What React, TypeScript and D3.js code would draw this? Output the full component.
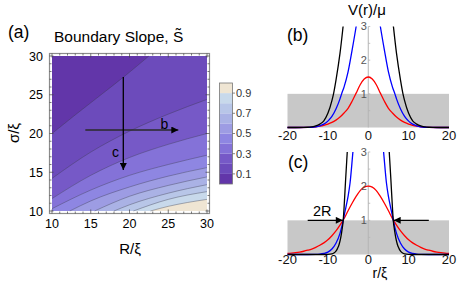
import React, { useRef, useEffect } from "react";
import * as d3 from "d3";

type Pt = [number, number];

const WIDTH = 474;
const HEIGHT = 284;
const FONT = "'Liberation Sans', Arial, Helvetica, sans-serif";

// -----------------------------
// Panel (a): boundary slope contour map
// -----------------------------
const axisTicksA = [10, 15, 20, 25, 30];
const slopeLevels = [0.1, 0.2, 0.3, 0.4, 0.5, 0.6, 0.7, 0.8, 0.9];
const bandColors = [
    "#6236a9", "#6c4bbb", "#7659c7", "#8472d8", "#8e86e2",
    "#9d9ce3", "#aab2e5", "#b8c6e8", "#c8d9eb", "#efe5d3"
];
const colorbarTicks = [0.1, 0.3, 0.5, 0.7, 0.9];

// contour lines [R/xi, sigma/xi], one per slope level
const contour01: Pt[] = [[10, 20.0], [13, 22.4], [16.2, 24.9], [19.5, 27.5], [22.5, 30]];
const contour02: Pt[] = [[10, 14.2], [15, 17.6], [20, 20.3], [25, 22.5], [30, 24.4]];
const contour03: Pt[] = [[10, 11.6], [15, 14.6], [20, 16.9], [25, 18.6], [30, 20.0]];
const contour04: Pt[] = [[10, 10.3], [15, 12.7], [20, 14.6], [25, 16.0], [30, 17.2]];
const contour05: Pt[] = [[12.3, 10], [15, 11.3], [20, 13.1], [25, 14.5], [30, 15.6]];
const contour06: Pt[] = [[15.5, 10], [20, 11.9], [25, 13.3], [30, 14.4]];
const contour07: Pt[] = [[18, 10], [20, 10.8], [25, 12.3], [30, 13.4]];
const contour08: Pt[] = [[20.5, 10], [25, 11.5], [30, 12.5]];
const contour09: Pt[] = [[22.7, 10], [25, 10.6], [30, 11.5]];
const contourLines = [contour01, contour02, contour03, contour04, contour05, contour06, contour07, contour08, contour09];

// cuts through parameter space
const cutB: Pt[] = [[14.3, 20.45], [26.3, 20.45]];
const cutC: Pt[] = [[19.2, 27.3], [19.2, 15.3]];

// -----------------------------
// Panels (b), (c): V(r)/mu profiles, r >= 0 half (symmetric)
// -----------------------------
const rTicks = [-20, -10, 0, 10, 20];
const vTicks = [1, 2, 3];

const redB: Pt[] = [[0, 1.5], [1, 1.44], [2, 1.27], [3, 1.02], [4, 0.78], [5, 0.57], [6, 0.43], [7, 0.31], [8, 0.22], [9, 0.15], [10, 0.1], [11, 0.065], [12, 0.04], [13, 0.022], [14, 0.01], [15, 0.004], [17, 0], [20, 0]];
const blueB: Pt[] = [[0, 4.6], [1, 4.4], [2, 3.8], [3, 3.0], [4, 2.3], [5, 1.65], [6, 1.2], [6.6, 1.0], [7, 0.85], [8, 0.55], [9, 0.33], [10, 0.19], [11, 0.1], [12, 0.05], [13, 0.022], [14, 0.008], [15, 0.003], [17, 0], [20, 0]];
const blackB: Pt[] = [[0, 12], [2, 9.5], [4, 6], [5, 4.3], [6, 3.25], [7, 2.2], [8, 1.4], [8.6, 1.0], [9, 0.8], [10, 0.42], [11, 0.2], [12, 0.1], [13, 0.045], [14, 0.02], [15, 0.008], [16, 0.003], [18, 0], [20, 0]];

const redC: Pt[] = [[0, 2.0], [1, 1.97], [2, 1.87], [3, 1.7], [4, 1.5], [5, 1.28], [6, 1.05], [7, 0.86], [8, 0.69], [9, 0.55], [10, 0.43], [11, 0.34], [12, 0.27], [13, 0.21], [14, 0.16], [15, 0.125], [16, 0.095], [17, 0.072], [18, 0.055], [19, 0.042], [20, 0.032]];
const blueC: Pt[] = [[0, 7], [2, 5.2], [3, 4.0], [3.8, 3.0], [4.5, 2.1], [5, 1.7], [5.5, 1.4], [6, 1.12], [6.2, 1.0], [7, 0.62], [8, 0.33], [9, 0.16], [10, 0.07], [11, 0.03], [12, 0.01], [13, 0.003], [15, 0], [20, 0]];
const blackC: Pt[] = [[0, 30], [3, 12], [4, 6.5], [4.5, 4.6], [5, 3.4], [5.2, 3.0], [5.6, 2.2], [6, 1.35], [6.2, 1.0], [6.5, 0.72], [6.8, 0.5], [7.2, 0.3], [7.6, 0.18], [8, 0.1], [8.5, 0.045], [9, 0.018], [10, 0.003], [11, 0], [20, 0]];

const arrowLeftC: Pt[] = [[-15, 1], [-6.3, 1]];
const arrowRightC: Pt[] = [[15, 1], [6.3, 1]];

const mirror = (half: Pt[]): Pt[] => [
    ...half.slice(1).reverse().map(([r, v]) => [-r, v] as Pt),
    ...half
];

const App: React.FC = () => {
    const svgRef = useRef<SVGSVGElement | null>(null);

    useEffect(() => {
        if (!svgRef.current) return;
        const svg = d3.select(svgRef.current);
        svg.selectAll("*").remove();

        const defs = svg.append("defs");
        defs.append("marker")
            .attr("id", "head")
            .attr("viewBox", "0 0 10 10")
            .attr("refX", 10)
            .attr("refY", 5)
            .attr("markerWidth", 8)
            .attr("markerHeight", 7)
            .attr("markerUnits", "userSpaceOnUse")
            .attr("orient", "auto")
            .append("path")
            .attr("d", "M0,0L10,5L0,10Z")
            .attr("fill", "#000");

        // -----------------------------
        // Panel (a)
        // -----------------------------
        const xA = d3.scaleLinear().domain([10, 30]).range([52, 207]);
        const yA = d3.scaleLinear().domain([10, 30]).range([211, 56]);
        const gA = svg.append("g");

        gA.append("rect")
            .attr("x", xA(10)).attr("y", yA(30))
            .attr("width", xA(30) - xA(10)).attr("height", yA(10) - yA(30))
            .attr("fill", bandColors[9]);

        const contourLine = d3.line<Pt>()
            .x(d => xA(d[0]))
            .y(d => yA(d[1]))
            .curve(d3.curveMonotoneX);

        for (let k = slopeLevels.length - 1; k >= 0; k--) {
            const pts = contourLines[k];
            const first = pts[0];
            const last = pts[pts.length - 1];
            const corners: Pt[] = [];
            if (last[0] >= 30 && last[1] < 30) corners.push([30, 30]);
            corners.push([10, 30]);
            if (first[1] <= 10 && first[0] > 10) corners.push([10, 10]);
            const d = contourLine(pts) + corners.map(c => `L${xA(c[0])},${yA(c[1])}`).join("") + "Z";
            gA.append("path").attr("d", d).attr("fill", bandColors[k]);
        }

        gA.selectAll("path.contour")
            .data(contourLines)
            .enter()
            .append("path")
            .attr("class", "contour")
            .attr("d", d => contourLine(d))
            .attr("fill", "none")
            .attr("stroke", "#3a3a4a")
            .attr("stroke-opacity", 0.55)
            .attr("stroke-width", 0.7);

        // frame with inward ticks
        const fx0 = xA(10) - 2.5, fx1 = xA(30) + 2.5;
        const fy0 = yA(30) - 2.5, fy1 = yA(10) + 2.5;
        gA.append("rect")
            .attr("x", fx0).attr("y", fy0)
            .attr("width", fx1 - fx0).attr("height", fy1 - fy0)
            .attr("fill", "none")
            .attr("stroke", "#8c8c8c")
            .attr("stroke-width", 1.2);
        d3.range(10, 30.01, 1).forEach(v => {
            const len = v % 5 === 0 ? 4 : 2;
            const tick = (x1: number, y1: number, x2: number, y2: number) =>
                gA.append("line").attr("x1", x1).attr("y1", y1).attr("x2", x2).attr("y2", y2)
                    .attr("stroke", "#444").attr("stroke-width", 0.7);
            tick(xA(v), fy1, xA(v), fy1 - len);
            tick(xA(v), fy0, xA(v), fy0 + len);
            tick(fx0, yA(v), fx0 + len, yA(v));
            tick(fx1, yA(v), fx1 - len, yA(v));
        });

        gA.selectAll("text.xt")
            .data(axisTicksA)
            .enter()
            .append("text")
            .attr("x", d => xA(d))
            .attr("y", 228)
            .attr("text-anchor", "middle")
            .attr("font-size", 12.5)
            .attr("font-family", FONT)
            .text(d => d);

        gA.selectAll("text.yt")
            .data(axisTicksA)
            .enter()
            .append("text")
            .attr("x", 43)
            .attr("y", d => yA(d))
            .attr("dy", "0.36em")
            .attr("text-anchor", "end")
            .attr("font-size", 12.5)
            .attr("font-family", FONT)
            .text(d => d);

        const cutLine = d3.line<Pt>().x(d => xA(d[0])).y(d => yA(d[1]));
        gA.append("path").attr("d", cutLine(cutB)).attr("stroke", "#2a2a2a").attr("stroke-width", 1.3)
            .attr("fill", "none").attr("marker-end", "url(#head)");
        gA.append("path").attr("d", cutLine(cutC)).attr("stroke", "#000").attr("stroke-width", 1.3)
            .attr("fill", "none").attr("marker-end", "url(#head)");
        gA.append("text").attr("x", xA(24.5)).attr("y", yA(20.6)).attr("text-anchor", "middle")
            .attr("font-size", 14).attr("font-family", FONT).text("b");
        gA.append("text").attr("x", xA(18.2)).attr("y", yA(17.0)).attr("text-anchor", "middle")
            .attr("font-size", 14).attr("font-family", FONT).text("c");

        svg.append("text").attr("x", 8).attr("y", 38).attr("font-size", 17.5).attr("font-family", FONT).text("(a)");
        svg.append("text").attr("x", 54).attr("y", 42).attr("font-size", 15.5).attr("font-family", FONT)
            .text("Boundary Slope, S\u0303");
        svg.append("text").attr("x", 130).attr("y", 254).attr("text-anchor", "middle")
            .attr("font-size", 15).attr("font-family", FONT).text("R/\u03be");
        svg.append("text").attr("transform", "translate(19,133) rotate(-90)").attr("text-anchor", "middle")
            .attr("font-size", 15).attr("font-family", FONT).text("\u03c3/\u03be");

        // colorbar
        const yCB = d3.scaleLinear().domain([0, 1]).range([184, 83]);
        const cb = svg.append("g");
        cb.selectAll("rect.band")
            .data(bandColors)
            .enter()
            .append("rect")
            .attr("x", 219.5)
            .attr("y", (_, i) => yCB((i + 1) / 10))
            .attr("width", 13)
            .attr("height", (_, i) => yCB(i / 10) - yCB((i + 1) / 10))
            .attr("fill", d => d);
        cb.append("rect").attr("x", 219.5).attr("y", yCB(1)).attr("width", 13).attr("height", yCB(0) - yCB(1))
            .attr("fill", "none").attr("stroke", "#777").attr("stroke-width", 0.8);
        colorbarTicks.forEach(t => {
            cb.append("line").attr("x1", 232.5).attr("x2", 235).attr("y1", yCB(t)).attr("y2", yCB(t))
                .attr("stroke", "#555").attr("stroke-width", 0.7);
            cb.append("text").attr("x", 236).attr("y", yCB(t)).attr("dy", "0.36em")
                .attr("font-size", 11).attr("font-family", FONT).attr("fill", "#333").text(t.toFixed(1));
        });

        // -----------------------------
        // Panels (b) and (c)
        // -----------------------------
        const xP = d3.scaleLinear().domain([-20, 20]).range([287.5, 449]);

        const drawProfile = (
            id: string,
            yP: d3.ScaleLinear<number, number>,
            curves: { data: Pt[]; color: string }[],
            tickBaseline: number
        ) => {
            const g = svg.append("g");
            g.append("rect")
                .attr("x", xP(-20)).attr("y", yP(1))
                .attr("width", xP(20) - xP(-20)).attr("height", yP(0) - yP(1))
                .attr("fill", "#c8c8c8");
            g.append("line")
                .attr("x1", xP(0)).attr("x2", xP(0)).attr("y1", yP(0)).attr("y2", yP(3))
                .attr("stroke", "#b4b4b4").attr("stroke-width", 1);
            d3.range(0.5, 3.01, 0.5).forEach(v => {
                g.append("line").attr("x1", xP(0)).attr("x2", xP(0) + 2).attr("y1", yP(v)).attr("y2", yP(v))
                    .attr("stroke", "#b4b4b4").attr("stroke-width", 0.8);
            });

            defs.append("clipPath").attr("id", id)
                .append("rect")
                .attr("x", xP(-20) - 1).attr("y", yP(3))
                .attr("width", xP(20) - xP(-20) + 2).attr("height", yP(0) - yP(3) + 2);

            const profileLine = d3.line<Pt>()
                .x(d => xP(d[0]))
                .y(d => yP(d[1]))
                .curve(d3.curveMonotoneX);

            g.append("g").attr("clip-path", `url(#${id})`)
                .selectAll("path")
                .data(curves)
                .enter()
                .append("path")
                .attr("d", d => profileLine(mirror(d.data)))
                .attr("fill", "none")
                .attr("stroke", d => d.color)
                .attr("stroke-width", 1.3);

            g.selectAll("text.vt")
                .data(vTicks)
                .enter()
                .append("text")
                .attr("x", xP(0) - 1.5)
                .attr("y", d => yP(d))
                .attr("dy", "0.36em")
                .attr("text-anchor", "end")
                .attr("font-size", 11)
                .attr("font-family", FONT)
                .attr("fill", "#555")
                .text(d => d);

            g.selectAll("text.rt")
                .data(rTicks)
                .enter()
                .append("text")
                .attr("x", d => xP(d))
                .attr("y", tickBaseline)
                .attr("text-anchor", "middle")
                .attr("font-size", 13)
                .attr("font-family", FONT)
                .attr("fill", "#111")
                .text(d => d);
            return g;
        };

        const yB = d3.scaleLinear().domain([0, 3]).range([127.5, 26.5]);
        drawProfile("clipB", yB, [
            { data: redB, color: "#ff0000" },
            { data: blueB, color: "#0000ff" },
            { data: blackB, color: "#000000" }
        ], 140);
        svg.append("text").attr("x", 287).attr("y", 41).attr("font-size", 17.5).attr("font-family", FONT).text("(b)");
        svg.append("text").attr("x", 367).attr("y", 15).attr("text-anchor", "middle")
            .attr("font-size", 15).attr("font-family", FONT).text("V(r)/\u03bc");

        const yC = d3.scaleLinear().domain([0, 3]).range([254.5, 152]);
        const gC = drawProfile("clipC", yC, [
            { data: redC, color: "#ff0000" },
            { data: blueC, color: "#0000ff" },
            { data: blackC, color: "#000000" }
        ], 263.5);
        const arrowLine = d3.line<Pt>().x(d => xP(d[0])).y(d => yC(d[1]));
        [arrowLeftC, arrowRightC].forEach(a => {
            gC.append("path").attr("d", arrowLine(a)).attr("stroke", "#000").attr("stroke-width", 1.3)
                .attr("fill", "none").attr("marker-end", "url(#head)");
        });
        gC.append("text").attr("x", xP(-11.4)).attr("y", yC(1.13)).attr("text-anchor", "middle")
            .attr("font-size", 14.5).attr("font-family", FONT).text("2R");
        svg.append("text").attr("x", 288).attr("y", 168).attr("font-size", 17.5).attr("font-family", FONT).text("(c)");
        svg.append("text").attr("x", 372.5).attr("y", 277.5)
            .attr("font-size", 14).attr("font-family", FONT).text("r/\u03be");
    }, []);

    return (
        <svg
            ref={svgRef}
            width={WIDTH}
            height={HEIGHT}
            style={{ position: "absolute", left: 0, top: 0, background: "#fff" }}
        />
    );
};

export default App;
